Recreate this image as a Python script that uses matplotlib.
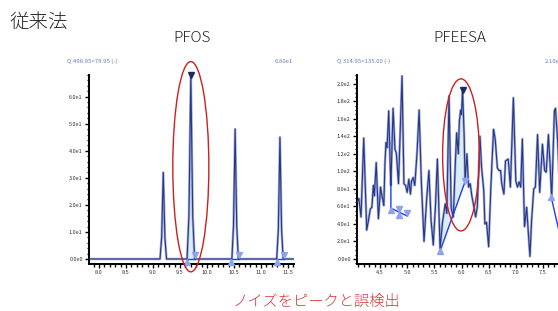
"""
Comparaison PFOS / PFEESA : chromatogrammes de la méthode classique
(intégration de pics sur du bruit)
"""

import numpy as np
import matplotlib
matplotlib.use("Agg")
import matplotlib.pyplot as plt
from matplotlib.patches import Ellipse
from matplotlib.ticker import MultipleLocator, FuncFormatter

plt.rcParams['font.family'] = ['Noto Sans CJK JP', 'DejaVu Sans']

# --- PFOS trace (time, intensity)
pfos_t = [7.80, 9.13, 9.16, 9.19, 9.22, 9.25, 9.63, 9.665, 9.70, 9.735, 9.77,
          10.46, 10.49, 10.52, 10.55, 10.58, 11.29, 11.32, 11.35, 11.38, 11.41, 11.62]
pfos_i = [0, 0, 8, 32, 8, 0, 0, 16, 68, 16, 0,
          0, 12, 48, 12, 0, 0, 11, 45, 11, 0, 0]
pfos_start = [9.63, 10.45, 11.30]
pfos_end = [9.77, 10.60, 11.42]
pfos_apex = (9.70, 68)

# --- PFEESA trace (noise only)
pfeesa_t = [4.08, 4.11, 4.15, 4.20, 4.255, 4.29, 4.32, 4.35, 4.377, 4.395,
            4.43, 4.47, 4.51, 4.53, 4.57, 4.59, 4.61, 4.63, 4.66, 4.69,
            4.70, 4.74, 4.776, 4.80, 4.84, 4.905, 4.94, 4.97, 5.00, 5.03,
            5.06, 5.08, 5.11, 5.14, 5.18, 5.22, 5.26, 5.31, 5.36, 5.40,
            5.44, 5.48, 5.52, 5.556, 5.605, 5.65, 5.70, 5.73, 5.77, 5.81,
            5.85, 5.88, 5.91, 5.94, 5.96, 5.985, 6.00, 6.02, 6.05, 6.065,
            6.10, 6.13, 6.16, 6.19, 6.23, 6.26, 6.29, 6.34, 6.37, 6.41,
            6.43, 6.46, 6.50, 6.54, 6.59, 6.62, 6.66, 6.69, 6.72, 6.74,
            6.78, 6.81, 6.86, 6.90, 6.955, 7.00, 7.03, 7.06, 7.09, 7.12,
            7.16, 7.20, 7.23, 7.26, 7.29, 7.33, 7.36, 7.40, 7.44, 7.49,
            7.53, 7.56, 7.60, 7.63, 7.66, 7.71, 7.73, 7.77, 7.82]
pfeesa_i = [65, 69, 48, 138, 33, 45, 57, 59, 84, 72,
            110, 46, 82, 74, 61, 108, 133, 127, 169, 101,
            84, 172, 125, 121, 86, 209, 86, 84, 76, 91,
            74, 89, 93, 84, 120, 170, 89, 20, 70, 101,
            44, 16, 60, 114, 12, 42, 63, 52, 186, 58,
            48, 100, 144, 120, 157, 170, 165, 193, 138, 89,
            120, 82, 86, 72, 59, 48, 59, 140, 104, 78,
            40, 42, 14, 82, 148, 137, 104, 101, 101, 86,
            74, 112, 114, 82, 184, 89, 82, 88, 82, 137,
            37, 59, 30, 3, 44, 80, 82, 142, 76, 131,
            101, 99, 142, 108, 69, 169, 172, 135, 60]
# baselines drawn by the integrator
pfeesa_base1_t = [4.70, 4.70, 5.00]
pfeesa_base1_i = [86, 58, 49]
pfeesa_base2_t = [5.605, 6.07]
pfeesa_base2_i = [9, 89]
pfeesa_base3_t = [7.65, 7.82]
pfeesa_base3_i = [71, 25]
pfeesa_up = [(4.70, 56), (4.85, 50), (5.605, 9), (7.65, 71)]
pfeesa_down = [(4.85, 57), (5.00, 52), (6.07, 89)]
pfeesa_apex = (6.02, 193)

NAVY = '#26378a'
HALO = '#a3aed3'
BLUE = '#1f3cff'
LIGHT = '#8ea2ef'
FILL = '#d9eef6'
RED = '#cc1f1f'
HEAD = '#6d7fb8'


def fmt_sci(v, pos):
    if v == 0:
        return "0.0e0"
    exp = int(np.floor(np.log10(abs(v))))
    return f"{v / 10 ** exp:.1f}e{exp}"


def style_axes(ax, xmaj, ymaj, ymin):
    for s in ['top', 'right']:
        ax.spines[s].set_visible(False)
    for s in ['left', 'bottom']:
        ax.spines[s].set_linewidth(1.4)
    ax.xaxis.set_major_locator(MultipleLocator(xmaj))
    ax.xaxis.set_minor_locator(MultipleLocator(0.1))
    ax.yaxis.set_major_locator(MultipleLocator(ymaj))
    ax.yaxis.set_minor_locator(MultipleLocator(ymin))
    ax.yaxis.set_major_formatter(FuncFormatter(fmt_sci))
    ax.tick_params(which='major', length=3, width=1, labelsize=4, pad=1.5,
                   colors='black', labelcolor='#333333')
    ax.tick_params(which='minor', length=1.8, width=1)


def draw_trace(ax, t, i):
    ax.plot(t, i, color=HALO, lw=1.8, solid_joinstyle='round', zorder=2)
    ax.plot(t, i, color=NAVY, lw=0.8, solid_joinstyle='round', zorder=3)


fig = plt.figure(figsize=(5.58, 3.11), dpi=100)

# ---- PFOS
ax1 = fig.add_axes([89 / 558, 47 / 311, 205 / 558, 189 / 311])
t = np.array(pfos_t)
i = np.array(pfos_i)
mask = (t >= pfos_start[0]) & (t <= pfos_end[0])
ax1.fill_between(t[mask], 0, i[mask], color=FILL, zorder=1)
draw_trace(ax1, pfos_t, pfos_i)
for s, e in zip(pfos_start, pfos_end):
    ax1.plot([s, e], [0, 0], color=BLUE, lw=1, zorder=4)
ax1.plot(pfos_start, [-1] * 3, '^', color=LIGHT, ms=4, zorder=5, clip_on=False)
ax1.plot(pfos_end, [1.5] * 3, 'v', color=LIGHT, ms=4, zorder=5)
ax1.plot(*pfos_apex, 'v', color='#1c2a66', ms=4, zorder=5, clip_on=False)
ax1.set_xlim(7.815, 11.61)
ax1.set_ylim(-1.85, 68)
style_axes(ax1, 0.5, 10, 2)
ax1.add_patch(Ellipse((9.70, 34.1), 0.667, 77.7, fill=False, ec=RED, lw=1,
                      clip_on=False, zorder=6))
ax1.text(-0.107, 1.07, "Q 498.95>79.95 (-)", transform=ax1.transAxes,
         fontsize=4.3, color=HEAD, va='center')
ax1.text(0.995, 1.07, "6.80e1", transform=ax1.transAxes,
         fontsize=4.3, color=HEAD, va='center', ha='right')

# ---- PFEESA
ax2 = fig.add_axes([357 / 558, 47 / 311, 205 / 558, 189 / 311])
t = np.array(pfeesa_t)
i = np.array(pfeesa_i)
base = np.interp(t, pfeesa_base2_t, pfeesa_base2_i)
mask = (t >= pfeesa_base2_t[0]) & (t <= pfeesa_base2_t[1])
ax2.fill_between(t[mask], base[mask], i[mask], where=i[mask] >= base[mask],
                 interpolate=True, color=FILL, zorder=1)
draw_trace(ax2, pfeesa_t, pfeesa_i)
for bt, bi in [(pfeesa_base1_t, pfeesa_base1_i), (pfeesa_base2_t, pfeesa_base2_i),
               (pfeesa_base3_t, pfeesa_base3_i)]:
    ax2.plot(bt, bi, color=BLUE, lw=1, zorder=4)
ax2.plot(*zip(*pfeesa_up), '^', color=LIGHT, ms=4, zorder=5)
ax2.plot(*zip(*pfeesa_down), 'v', color=LIGHT, ms=4, zorder=5)
ax2.plot(*pfeesa_apex, 'v', color='#1c2a66', ms=4, zorder=5)
ax2.set_xlim(4.076, 7.85)
ax2.set_ylim(-5.7, 210)
style_axes(ax2, 0.5, 20, 5)
ax2.add_patch(Ellipse((5.99, 118.8), 0.676, 173.6, fill=False, ec=RED, lw=1,
                      clip_on=False, zorder=6))
ax2.text(-0.098, 1.07, "Q 314.95>135.00 (-)", transform=ax2.transAxes,
         fontsize=4.3, color=HEAD, va='center')
ax2.text(0.915, 1.07, "2.10e2", transform=ax2.transAxes,
         fontsize=4.3, color=HEAD, va='center', ha='left')

# ---- Titles and caption
fig.text(10 / 558, 1 - 22 / 311, "従来法", fontsize=14, va='center', ha='left',
         color='#222222', fontweight='light')
fig.text(192 / 558, 1 - 38 / 311, "PFOS", fontsize=11, va='center', ha='center',
         color='#222222', fontweight='light')
fig.text(460 / 558, 1 - 38 / 311, "PFEESA", fontsize=11, va='center', ha='center',
         color='#222222', fontweight='light')
fig.text(316 / 558, 1 - 302 / 311, "ノイズをピークと誤検出", fontsize=11,
         va='center', ha='center', color='#d8373a', fontweight='light')

fig.savefig("out.png", dpi=100)
